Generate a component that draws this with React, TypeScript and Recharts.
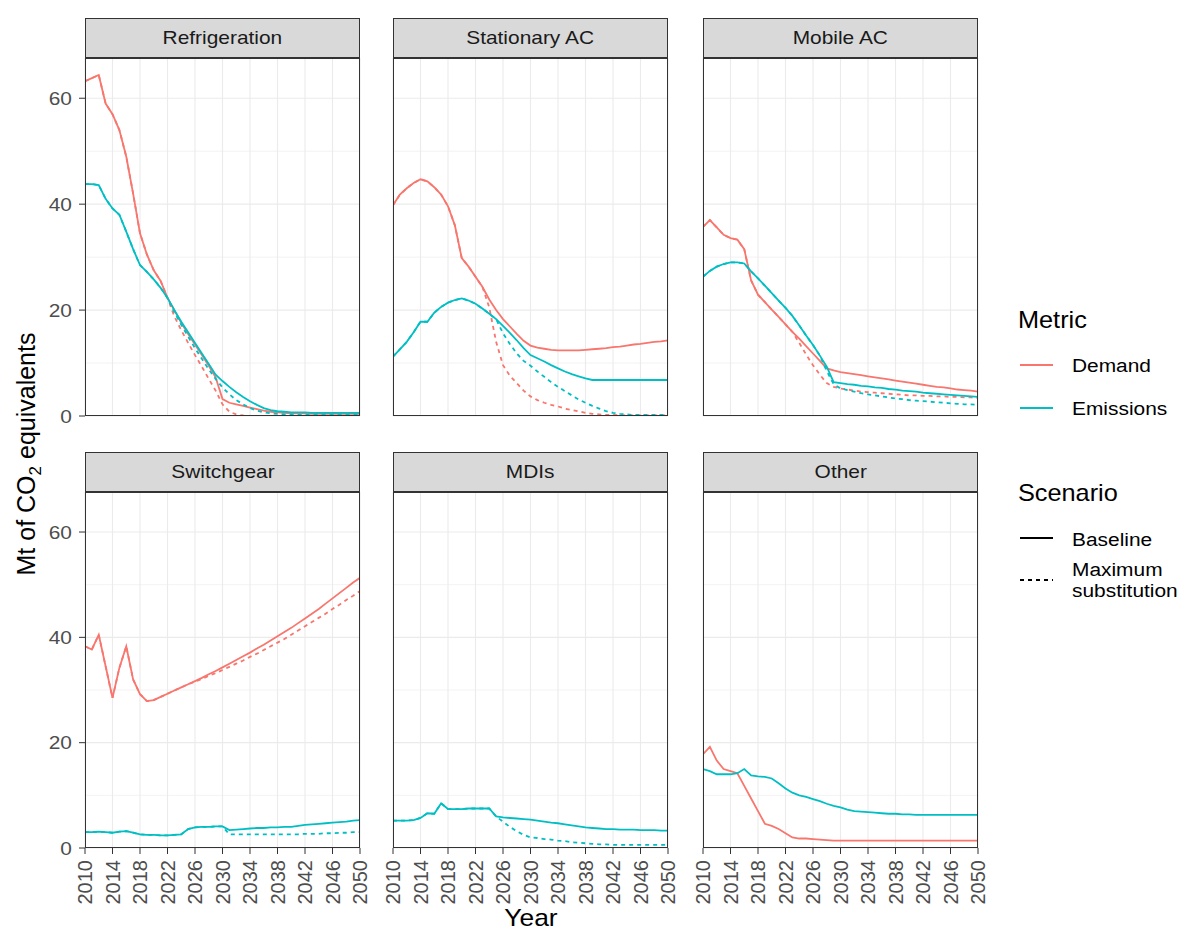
import { CartesianGrid, Line, LineChart, XAxis, YAxis } from "recharts";

// ---- data (Mt CO2e) ----
const YEARS = [
  2010, 2011, 2012, 2013, 2014, 2015, 2016, 2017, 2018, 2019,
  2020, 2021, 2022, 2023, 2024, 2025, 2026, 2027, 2028, 2029,
  2030, 2031, 2032, 2033, 2034, 2035, 2036, 2037, 2038, 2039,
  2040, 2041, 2042, 2043, 2044, 2045, 2046, 2047, 2048, 2049, 2050,
];
const X_TICKS = [2010, 2014, 2018, 2022, 2026, 2030, 2034, 2038, 2042, 2046, 2050];
const Y_TICKS = [0, 20, 40, 60];
const Y_MINOR = [10, 30, 50];
const Y_MAX = 67.6;

const PANEL_NAMES = ["Refrigeration", "Stationary AC", "Mobile AC", "Switchgear", "MDIs", "Other"];

const REF_DEMAND_BASE = [63.2, 63.8, 64.4, 59.0, 57.0, 54.0, 49.0, 42.0, 34.5, 30.5, 27.5, 25.5, 22.3, 20.0, 17.6, 15.5, 13.5, 11.5, 9.5, 7.3, 3.2, 2.5, 2.2, 1.9, 1.6, 1.3, 1.0, 0.8, 0.7, 0.6, 0.5, 0.5, 0.5, 0.4, 0.4, 0.4, 0.4, 0.4, 0.4, 0.4, 0.4];
const REF_DEMAND_MAX = [63.2, 63.8, 64.4, 59.0, 57.0, 54.0, 49.0, 42.0, 34.5, 30.5, 27.5, 25.5, 22.3, 18.8, 16.2, 13.8, 11.5, 9.3, 7.0, 4.8, 2.2, 0.8, 0.3, 0.1, 0, 0, 0, 0, 0, 0, 0, 0, 0, 0, 0, 0, 0, 0, 0, 0, 0];
const REF_EMIS_BASE = [43.8, 43.8, 43.6, 41.0, 39.2, 38.0, 34.8, 31.5, 28.5, 27.2, 25.8, 24.2, 22.3, 20.0, 17.8, 15.8, 13.8, 11.8, 9.8, 7.8, 6.6, 5.5, 4.5, 3.6, 2.8, 2.1, 1.5, 1.1, 0.9, 0.8, 0.7, 0.7, 0.7, 0.6, 0.6, 0.6, 0.6, 0.6, 0.6, 0.6, 0.6];
const REF_EMIS_MAX = [43.8, 43.8, 43.6, 41.0, 39.2, 38.0, 34.8, 31.5, 28.5, 27.2, 25.8, 24.2, 22.3, 19.6, 17.2, 15.0, 12.8, 10.8, 8.8, 7.0, 5.4, 4.1, 3.0, 2.2, 1.5, 1.0, 0.7, 0.5, 0.4, 0.3, 0.3, 0.2, 0.2, 0.2, 0.2, 0.2, 0.2, 0.2, 0.2, 0.2, 0.2];

const STAT_DEMAND_BASE = [39.8, 41.8, 43.0, 44.0, 44.7, 44.3, 43.2, 41.8, 39.6, 36.0, 29.8, 28.2, 26.3, 24.4, 22.0, 20.0, 18.3, 16.9, 15.5, 14.2, 13.3, 12.9, 12.7, 12.5, 12.4, 12.4, 12.4, 12.4, 12.5, 12.6, 12.7, 12.8, 13.0, 13.1, 13.3, 13.5, 13.6, 13.8, 14.0, 14.1, 14.3];
const STAT_DEMAND_MAX = [39.8, 41.8, 43.0, 44.0, 44.7, 44.3, 43.2, 41.8, 39.6, 36.0, 29.8, 28.2, 26.3, 24.4, 20.5, 14.0, 9.6, 7.6, 6.2, 4.8, 3.7, 3.0, 2.5, 2.1, 1.8, 1.4, 1.1, 0.9, 0.6, 0.4, 0.3, 0.2, 0.2, 0.1, 0.1, 0.1, 0.1, 0.1, 0.1, 0.1, 0.1];
const STAT_EMIS_BASE = [11.2, 12.6, 14.0, 15.8, 17.8, 17.8, 19.5, 20.6, 21.4, 21.9, 22.2, 21.8, 21.2, 20.3, 19.3, 18.3, 17.0, 15.7, 14.3, 12.8, 11.5, 10.9, 10.3, 9.6, 9.0, 8.4, 7.9, 7.5, 7.1, 6.8, 6.8, 6.8, 6.8, 6.8, 6.8, 6.8, 6.8, 6.8, 6.8, 6.8, 6.8];
const STAT_EMIS_MAX = [11.2, 12.6, 14.0, 15.8, 17.8, 17.8, 19.5, 20.6, 21.4, 21.9, 22.2, 21.8, 21.2, 20.3, 19.3, 18.3, 15.6, 13.6, 11.8, 10.4, 9.5, 8.4, 7.4, 6.4, 5.5, 4.7, 3.9, 3.1, 2.5, 1.9, 1.4, 0.9, 0.6, 0.4, 0.3, 0.2, 0.2, 0.2, 0.2, 0.2, 0.2];

const MOB_DEMAND_BASE = [35.7, 37.0, 35.6, 34.2, 33.6, 33.3, 31.5, 25.6, 22.9, 21.5, 20.1, 18.7, 17.3, 15.9, 14.6, 13.2, 11.8, 10.4, 9.0, 8.6, 8.3, 8.1, 7.9, 7.7, 7.5, 7.3, 7.1, 6.9, 6.7, 6.5, 6.3, 6.1, 5.9, 5.7, 5.5, 5.4, 5.2, 5.0, 4.9, 4.8, 4.6];
const MOB_DEMAND_MAX = [35.7, 37.0, 35.6, 34.2, 33.6, 33.3, 31.5, 25.6, 22.9, 21.5, 20.1, 18.7, 17.3, 15.9, 13.8, 11.6, 9.6, 7.8, 6.2, 5.5, 5.2, 5.0, 4.8, 4.6, 4.5, 4.4, 4.3, 4.2, 4.1, 4.0, 3.9, 3.9, 3.8, 3.8, 3.7, 3.7, 3.6, 3.6, 3.5, 3.5, 3.4];
const MOB_EMIS_BASE = [26.3, 27.4, 28.2, 28.7, 29.0, 29.0, 28.8, 27.3, 26.0, 24.6, 23.2, 21.8, 20.4, 18.9, 17.1, 15.2, 13.4, 11.4, 9.3, 6.4, 6.2, 6.0, 5.9, 5.7, 5.6, 5.4, 5.3, 5.1, 5.0, 4.8, 4.7, 4.6, 4.4, 4.3, 4.2, 4.1, 4.0, 3.9, 3.8, 3.7, 3.6];
const MOB_EMIS_MAX = [26.3, 27.4, 28.2, 28.7, 29.0, 29.0, 28.8, 27.3, 26.0, 24.6, 23.2, 21.8, 20.4, 18.9, 17.1, 15.2, 13.4, 11.4, 8.5, 6.0, 5.2, 4.9, 4.6, 4.3, 4.1, 3.9, 3.7, 3.5, 3.3, 3.2, 3.0, 2.9, 2.8, 2.7, 2.6, 2.5, 2.4, 2.3, 2.2, 2.2, 2.1];

const SW_DEMAND_BASE = [38.3, 37.7, 40.5, 34.5, 28.5, 34.2, 38.3, 32.0, 29.2, 27.9, 28.1, 28.7, 29.3, 29.9, 30.5, 31.1, 31.7, 32.3, 33.0, 33.6, 34.3, 35.0, 35.7, 36.4, 37.1, 37.9, 38.6, 39.4, 40.2, 41.0, 41.8, 42.7, 43.6, 44.5, 45.4, 46.4, 47.4, 48.4, 49.4, 50.4, 51.3];
const SW_DEMAND_MAX = [38.3, 37.7, 40.5, 34.5, 28.5, 34.2, 38.3, 32.0, 29.2, 27.9, 28.1, 28.7, 29.3, 29.9, 30.5, 31.1, 31.6, 32.1, 32.7, 33.2, 33.8, 34.4, 35.0, 35.6, 36.3, 36.9, 37.6, 38.3, 39.0, 39.7, 40.5, 41.3, 42.1, 42.9, 43.7, 44.5, 45.4, 46.2, 47.1, 47.9, 48.8];
const SW_EMIS_BASE = [3.0, 3.0, 3.1, 3.0, 2.9, 3.1, 3.2, 2.9, 2.6, 2.5, 2.5, 2.4, 2.4, 2.5, 2.6, 3.6, 3.9, 4.0, 4.0, 4.1, 4.1, 3.4, 3.5, 3.6, 3.7, 3.8, 3.8, 3.9, 3.9, 4.0, 4.0, 4.2, 4.4, 4.5, 4.6, 4.7, 4.8, 4.9, 5.0, 5.2, 5.3];
const SW_EMIS_MAX = [3.0, 3.0, 3.1, 3.0, 2.9, 3.1, 3.2, 2.9, 2.6, 2.5, 2.5, 2.4, 2.4, 2.5, 2.6, 3.6, 3.9, 4.0, 4.0, 4.1, 4.1, 2.6, 2.6, 2.6, 2.6, 2.6, 2.6, 2.6, 2.6, 2.6, 2.6, 2.6, 2.7, 2.7, 2.7, 2.8, 2.8, 2.9, 2.9, 3.0, 3.0];

const MDI_EMIS_BASE = [5.2, 5.2, 5.2, 5.3, 5.7, 6.6, 6.5, 8.5, 7.4, 7.4, 7.4, 7.5, 7.5, 7.5, 7.5, 6.0, 5.8, 5.7, 5.6, 5.5, 5.4, 5.2, 5.0, 4.8, 4.7, 4.5, 4.3, 4.1, 3.9, 3.8, 3.7, 3.6, 3.6, 3.5, 3.5, 3.5, 3.4, 3.4, 3.4, 3.3, 3.3];
const MDI_EMIS_MAX = [5.2, 5.2, 5.2, 5.3, 5.7, 6.6, 6.5, 8.5, 7.4, 7.4, 7.4, 7.5, 7.5, 7.5, 7.5, 6.0, 5.0, 4.0, 3.2, 2.5, 2.0, 1.9, 1.7, 1.6, 1.4, 1.3, 1.1, 1.0, 0.9, 0.8, 0.7, 0.7, 0.6, 0.6, 0.6, 0.6, 0.6, 0.6, 0.6, 0.6, 0.6];

const OTH_DEMAND_BASE = [17.8, 19.2, 16.6, 15.0, 14.6, 14.2, 11.8, 9.4, 7.0, 4.6, 4.2, 3.6, 2.8, 2.0, 1.8, 1.8, 1.7, 1.6, 1.5, 1.4, 1.4, 1.4, 1.4, 1.4, 1.4, 1.4, 1.4, 1.4, 1.4, 1.4, 1.4, 1.4, 1.4, 1.4, 1.4, 1.4, 1.4, 1.4, 1.4, 1.4, 1.4];
const OTH_EMIS_BASE = [15.0, 14.6, 14.0, 14.0, 14.0, 14.2, 15.0, 13.8, 13.6, 13.5, 13.2, 12.3, 11.3, 10.5, 10.0, 9.7, 9.3, 8.9, 8.4, 8.0, 7.7, 7.3, 7.0, 6.9, 6.8, 6.7, 6.6, 6.5, 6.5, 6.4, 6.4, 6.3, 6.3, 6.3, 6.3, 6.3, 6.3, 6.3, 6.3, 6.3, 6.3];

type Series = { db?: number[]; dm?: number[]; eb?: number[]; em?: number[] };

const PANEL_SERIES: Series[] = [
  { db: REF_DEMAND_BASE, dm: REF_DEMAND_MAX, eb: REF_EMIS_BASE, em: REF_EMIS_MAX },
  { db: STAT_DEMAND_BASE, dm: STAT_DEMAND_MAX, eb: STAT_EMIS_BASE, em: STAT_EMIS_MAX },
  { db: MOB_DEMAND_BASE, dm: MOB_DEMAND_MAX, eb: MOB_EMIS_BASE, em: MOB_EMIS_MAX },
  { db: SW_DEMAND_BASE, dm: SW_DEMAND_MAX, eb: SW_EMIS_BASE, em: SW_EMIS_MAX },
  { eb: MDI_EMIS_BASE, em: MDI_EMIS_MAX },
  { db: OTH_DEMAND_BASE, eb: OTH_EMIS_BASE },
];

// ---- style ----
const DEMAND = "#F8766D";
const EMIS = "#00BFC4";
const GRID = "#ebebeb";
const BORDER = "#333333";
const TICK_TEXT = "#4d4d4d";
const FONT = "'Liberation Sans', Arial, sans-serif";
const SX = 1.1; // reference text is slightly wider than plain Arial
const LINE_W = 1.8;

const SERIES_STYLE: { key: keyof Series; color: string; dash?: string }[] = [
  { key: "db", color: DEMAND },
  { key: "dm", color: DEMAND, dash: "4 4" },
  { key: "eb", color: EMIS },
  { key: "em", color: EMIS, dash: "4 4" },
];

const COL_LEFT = [85, 393, 703];
const ROW_TOP = [58, 491.5];
const ROW_H = [358, 356];
const PANEL_W = 275;
const STRIP_H = 40;

function YTick({ x, y, payload }: any) {
  return (
    <text
      transform={`translate(${x},${y}) scale(${SX},1)`}
      textAnchor="end"
      dy="0.35em"
      fontSize={19}
      fontFamily={FONT}
      fill={TICK_TEXT}
    >
      {payload.value}
    </text>
  );
}

function XTick({ x, y, payload }: any) {
  return (
    <text
      transform={`translate(${x},${y}) rotate(-90)`}
      textAnchor="end"
      dy="0.36em"
      fontSize={20}
      fontFamily={FONT}
      fill={TICK_TEXT}
    >
      {payload.value}
    </text>
  );
}

function Panel({ index }: { index: number }) {
  const col = index % 3;
  const row = Math.floor(index / 3);
  const left = COL_LEFT[col];
  const top = ROW_TOP[row];
  const h = ROW_H[row];
  const showY = col === 0;
  const showX = row === 1;
  const padL = showY ? 45 : 10;
  const padT = 10;
  const padR = 10;
  const padB = showX ? 70 : 10;

  const s = PANEL_SERIES[index];
  const rows = YEARS.map((year, i) => ({
    year,
    db: s.db?.[i],
    dm: s.dm?.[i],
    eb: s.eb?.[i],
    em: s.em?.[i],
  }));

  return (
    <>
      <div
        style={{
          position: "absolute",
          left,
          top: top - STRIP_H,
          width: PANEL_W,
          height: STRIP_H,
          boxSizing: "border-box",
          background: "#d9d9d9",
          border: `1px solid ${BORDER}`,
          display: "flex",
          alignItems: "center",
          justifyContent: "center",
          fontFamily: FONT,
          fontSize: 19,
          color: "#1a1a1a",
        }}
      >
        <span style={{ display: "inline-block", transform: `scaleX(${SX})` }}>{PANEL_NAMES[index]}</span>
      </div>
      <div style={{ position: "absolute", left: left - padL, top: top - padT }}>
        <LineChart
          width={padL + PANEL_W + padR}
          height={padT + h + padB}
          data={rows}
          margin={{ top: padT, right: padR, bottom: showX ? 0 : padB, left: showY ? 0 : padL }}
        >
          <CartesianGrid stroke={GRID} strokeWidth={0.6} vertical={false} horizontalValues={Y_MINOR} />
          <CartesianGrid stroke={GRID} strokeWidth={1.1} horizontalValues={Y_TICKS} verticalValues={X_TICKS} />
          <XAxis
            dataKey="year"
            type="number"
            domain={[2010, 2050]}
            ticks={X_TICKS}
            allowDataOverflow
            hide={!showX}
            height={70}
            axisLine={false}
            tickLine={{ stroke: BORDER }}
            tickSize={6}
            tickMargin={6}
            interval={0}
            tick={<XTick />}
          />
          <YAxis
            type="number"
            domain={[0, Y_MAX]}
            ticks={Y_TICKS}
            allowDataOverflow
            hide={!showY}
            width={45}
            axisLine={false}
            tickLine={{ stroke: BORDER }}
            tickSize={6}
            tickMargin={7}
            interval={0}
            tick={<YTick />}
          />
          {SERIES_STYLE.filter((st) => s[st.key]).map((st) => (
            <Line
              key={st.key}
              dataKey={st.key}
              type="linear"
              stroke={st.color}
              strokeWidth={LINE_W}
              strokeDasharray={st.dash}
              dot={false}
              activeDot={false}
              isAnimationActive={false}
            />
          ))}
        </LineChart>
      </div>
      <div
        style={{
          position: "absolute",
          left,
          top,
          width: PANEL_W,
          height: h,
          boxSizing: "border-box",
          border: `1px solid ${BORDER}`,
          pointerEvents: "none",
        }}
      />
    </>
  );
}

function Overlay() {
  const legendText = { fontSize: 19, fontFamily: FONT, fill: "#000" } as const;
  const titleText = { fontSize: 23, fontFamily: FONT, fill: "#000" } as const;
  const scaled = (x: number, y: number) => `translate(${x},${y}) scale(${SX},1)`;
  return (
    <svg width={1179} height={933} style={{ position: "absolute", left: 0, top: 0, pointerEvents: "none" }}>
      {/* axis titles */}
      <text transform={scaled(531, 926)} textAnchor="middle" {...titleText} fontSize={24}>
        Year
      </text>
      <text transform="translate(35,454) rotate(-90)" textAnchor="middle" {...titleText} fontSize={25}>
        Mt of CO
        <tspan fontSize={17} dy={6}>
          2
        </tspan>
        <tspan dy={-6}> equivalents</tspan>
      </text>

      {/* Metric legend */}
      <text transform={scaled(1018, 328)} {...titleText}>Metric</text>
      <line x1={1020} x2={1053} y1={365} y2={365} stroke={DEMAND} strokeWidth={LINE_W} />
      <text transform={scaled(1072, 372)} {...legendText}>Demand</text>
      <line x1={1020} x2={1053} y1={408} y2={408} stroke={EMIS} strokeWidth={LINE_W} />
      <text transform={scaled(1072, 415)} {...legendText}>Emissions</text>

      {/* Scenario legend */}
      <text transform={scaled(1018, 501)} {...titleText}>Scenario</text>
      <line x1={1020} x2={1053} y1={538} y2={538} stroke="#000" strokeWidth={LINE_W} />
      <text transform={scaled(1072, 546)} {...legendText}>Baseline</text>
      <line x1={1020} x2={1053} y1={580} y2={580} stroke="#000" strokeWidth={LINE_W} strokeDasharray="4 4" />
      <text transform={scaled(1072, 576)} {...legendText}>Maximum</text>
      <text transform={scaled(1072, 597)} {...legendText}>substitution</text>
    </svg>
  );
}

export default function App() {
  return (
    <div
      style={{
        position: "absolute",
        left: 0,
        top: 0,
        width: 1179,
        height: 933,
        background: "#fff",
        overflow: "hidden",
      }}
    >
      {PANEL_NAMES.map((_, i) => (
        <Panel key={i} index={i} />
      ))}
      <Overlay />
    </div>
  );
}
